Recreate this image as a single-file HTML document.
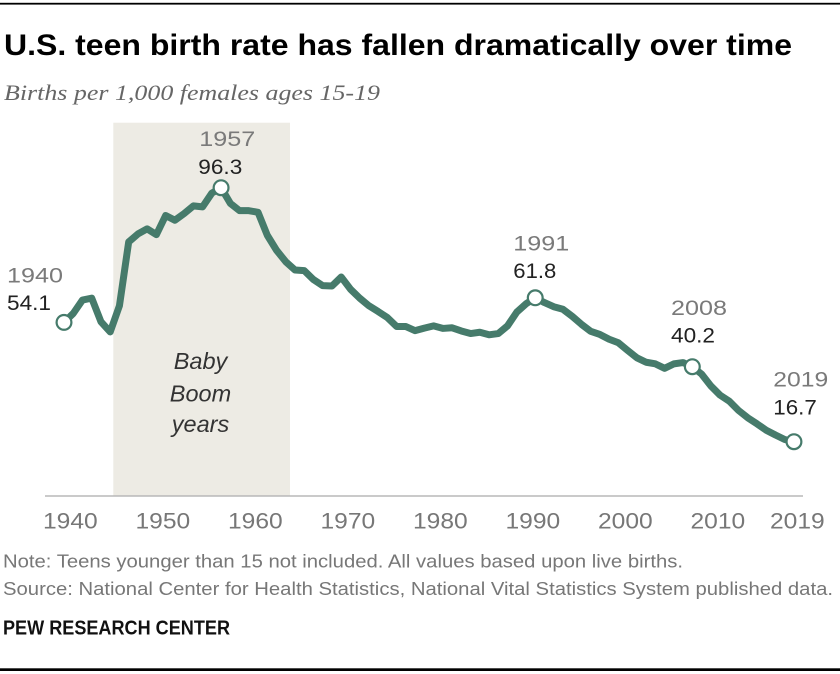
<!DOCTYPE html>
<html>
<head>
<meta charset="utf-8">
<style>
html,body{margin:0;padding:0;background:#fff;}
svg{display:block;}
</style>
</head>
<body>
<svg width="840" height="674" viewBox="0 0 840 674" xmlns="http://www.w3.org/2000/svg">
<rect x="0" y="2.8" width="840" height="1.8" fill="#000"/>
<text x="4" y="55" font-family="Liberation Sans, sans-serif" font-weight="bold" font-size="30" fill="#000" textLength="788" lengthAdjust="spacingAndGlyphs">U.S. teen birth rate has fallen dramatically over time</text>
<text x="4" y="100" font-family="Liberation Serif, serif" font-style="italic" font-size="22.5" fill="#666" textLength="376" lengthAdjust="spacingAndGlyphs">Births per 1,000 females ages 15-19</text>

<rect x="113.3" y="122.7" width="176.7" height="373" fill="#edebe4"/>
<line x1="45" y1="496" x2="803" y2="496" stroke="#b8b8b8" stroke-width="1.4"/>

<g font-family="Liberation Sans, sans-serif" font-style="italic" font-size="23.5" fill="#333" text-anchor="middle">
<text x="200.5" y="369">Baby</text>
<text x="200.5" y="401.5">Boom</text>
<text x="200.5" y="432">years</text>
</g>

<polyline fill="none" stroke="#467b6b" stroke-width="7" stroke-linejoin="round" stroke-linecap="round" points="64.00,322.37 73.24,313.43 82.48,300.03 91.72,298.12 100.96,321.73 110.20,331.94 119.44,305.77 128.68,241.95 137.92,233.98 147.16,228.87 156.40,234.61 165.64,215.47 174.88,220.25 184.12,213.55 193.36,205.90 202.60,206.85 211.84,193.13 221.08,187.71 230.32,203.34 239.56,210.68 248.80,210.68 258.04,212.28 267.28,235.25 276.52,250.25 285.76,261.74 295.00,270.03 304.24,270.67 313.48,279.61 322.72,285.67 331.96,285.99 341.20,277.05 350.44,289.18 359.68,298.12 368.92,305.77 378.16,311.52 387.40,317.58 396.64,326.52 405.88,326.52 415.12,330.66 424.36,328.11 433.60,325.88 442.84,328.43 452.08,327.79 461.32,330.98 470.56,333.54 479.80,332.26 489.04,334.81 498.28,333.54 507.52,325.88 516.76,312.16 526.00,303.86 535.24,297.80 544.48,302.58 553.72,306.73 562.96,309.28 572.20,316.30 581.44,324.28 590.68,331.30 599.92,334.49 609.16,339.28 618.40,342.79 627.64,350.45 636.88,357.79 646.12,362.25 655.36,363.85 664.60,368.32 673.84,363.85 683.08,362.57 692.32,366.72 701.56,374.06 710.80,385.87 720.04,395.12 729.28,401.18 738.52,410.44 747.76,417.78 757.00,423.84 766.24,430.22 775.48,435.01 784.72,439.48 793.96,441.71"/>

<g fill="#fff" stroke="#467b6b" stroke-width="2.2">
<circle cx="64.00" cy="322.37" r="7.4"/>
<circle cx="221.08" cy="187.71" r="7.4"/>
<circle cx="535.24" cy="297.80" r="7.4"/>
<circle cx="692.32" cy="366.72" r="7.4"/>
<circle cx="793.96" cy="441.71" r="7.4"/>
</g>

<g font-family="Liberation Sans, sans-serif" font-size="21.5">
<text x="7" y="282.7" fill="#7a7a7a" textLength="56" lengthAdjust="spacingAndGlyphs">1940</text>
<text x="7" y="310" fill="#222" textLength="44" lengthAdjust="spacingAndGlyphs">54.1</text>
<text x="199.3" y="146" fill="#7a7a7a" textLength="56" lengthAdjust="spacingAndGlyphs">1957</text>
<text x="198.3" y="174" fill="#222" textLength="44" lengthAdjust="spacingAndGlyphs">96.3</text>
<text x="513.3" y="250.7" fill="#7a7a7a" textLength="56" lengthAdjust="spacingAndGlyphs">1991</text>
<text x="513.3" y="278" fill="#222" textLength="43" lengthAdjust="spacingAndGlyphs">61.8</text>
<text x="671" y="315" fill="#7a7a7a" textLength="56" lengthAdjust="spacingAndGlyphs">2008</text>
<text x="671" y="342.7" fill="#222" textLength="44" lengthAdjust="spacingAndGlyphs">40.2</text>
<text x="773.3" y="386.7" fill="#7a7a7a" textLength="55" lengthAdjust="spacingAndGlyphs">2019</text>
<text x="773.3" y="414.3" fill="#222" textLength="43.5" lengthAdjust="spacingAndGlyphs">16.7</text>
</g>

<g font-family="Liberation Sans, sans-serif" font-size="22.5" fill="#777">
<text x="43" y="528.3" textLength="54.7" lengthAdjust="spacingAndGlyphs">1940</text>
<text x="135.5" y="528.3" textLength="54.7" lengthAdjust="spacingAndGlyphs">1950</text>
<text x="228" y="528.3" textLength="54.7" lengthAdjust="spacingAndGlyphs">1960</text>
<text x="320.5" y="528.3" textLength="54.7" lengthAdjust="spacingAndGlyphs">1970</text>
<text x="413" y="528.3" textLength="54.7" lengthAdjust="spacingAndGlyphs">1980</text>
<text x="505.5" y="528.3" textLength="54.7" lengthAdjust="spacingAndGlyphs">1990</text>
<text x="598" y="528.3" textLength="54.7" lengthAdjust="spacingAndGlyphs">2000</text>
<text x="690.5" y="528.3" textLength="54.7" lengthAdjust="spacingAndGlyphs">2010</text>
<text x="770" y="528.3" textLength="54.7" lengthAdjust="spacingAndGlyphs">2019</text>
</g>

<g font-family="Liberation Sans, sans-serif" font-size="18.5" fill="#777">
<text x="3" y="567.3" textLength="680" lengthAdjust="spacingAndGlyphs">Note: Teens younger than 15 not included. All values based upon live births.</text>
<text x="3" y="595" textLength="830" lengthAdjust="spacingAndGlyphs">Source: National Center for Health Statistics, National Vital Statistics System published data.</text>
</g>
<text x="3" y="634.3" font-family="Liberation Sans, sans-serif" font-weight="bold" font-size="20" fill="#111" textLength="227" lengthAdjust="spacingAndGlyphs">PEW RESEARCH CENTER</text>

<rect x="0" y="668.3" width="840" height="2.7" fill="#000"/>
</svg>
</body>
</html>
